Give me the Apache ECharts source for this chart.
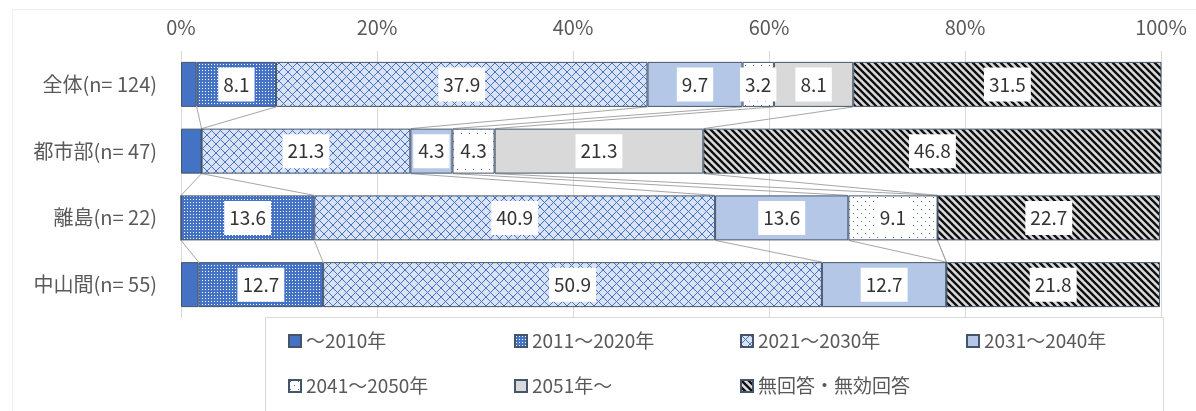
<!DOCTYPE html>
<html>
<head>
<meta charset="utf-8">
<script src="https://cdn.jsdelivr.net/npm/echarts@6/dist/echarts.min.js"></script>
<style>
html,body{margin:0;padding:0;background:#fff;}
#chart{width:1196px;height:411px;}
</style>
</head>
<body>
<div id="chart"></div>
<script>
// ---- data ----
const categories = ['全体(n= 124)', '都市部(n= 47)', '離島(n= 22)', '中山間(n= 55)'];
const seriesNames = ['～2010年', '2011～2020年', '2021～2030年', '2031～2040年', '2041～2050年', '2051年～', '無回答・無効回答'];
const s2010 = [1.6, 2.1, 0, 1.8];
const s2020 = [8.1, 0, 13.6, 12.7];
const s2030 = [37.9, 21.3, 40.9, 50.9];
const s2040 = [9.7, 4.3, 13.6, 12.7];
const s2050 = [3.2, 4.3, 9.1, 0];
const s2051 = [8.1, 21.3, 0, 0];
const sNone = [31.5, 46.8, 22.7, 21.8];
const xTicks = [0, 20, 40, 60, 80, 100];

const seriesValues = [s2010, s2020, s2030, s2040, s2050, s2051, sNone];

// ---- patterns ----
function makeCanvas(w, h, draw) {
  const c = document.createElement('canvas');
  c.width = w; c.height = h;
  const ctx = c.getContext('2d');
  draw(ctx, w, h);
  return c;
}
const patDots = makeCanvas(3, 3, (ctx, w, h) => {
  ctx.fillStyle = '#4472C4'; ctx.fillRect(0, 0, w, h);
  ctx.fillStyle = '#ffffff'; ctx.fillRect(1, 1, 1, 1);
});
const patCross = makeCanvas(9, 9, (ctx, w, h) => {
  ctx.fillStyle = '#DAE3F3'; ctx.fillRect(0, 0, w, h);
  ctx.strokeStyle = '#4472C4'; ctx.lineWidth = 1;
  ctx.beginPath();
  ctx.moveTo(0, 0); ctx.lineTo(w, h);
  ctx.moveTo(w, 0); ctx.lineTo(0, h);
  ctx.stroke();
});
const patSparse = makeCanvas(8, 8, (ctx, w, h) => {
  ctx.fillStyle = '#ffffff'; ctx.fillRect(0, 0, w, h);
  ctx.fillStyle = '#4472C4';
  ctx.fillRect(1, 1, 1, 1);
  ctx.fillRect(5, 5, 1, 1);
});
const patStripe = makeCanvas(7, 7, (ctx, w, h) => {
  ctx.fillStyle = '#DCDCDC'; ctx.fillRect(0, 0, w, h);
  ctx.strokeStyle = '#111111'; ctx.lineWidth = 2.4;
  ctx.beginPath();
  ctx.moveTo(-2, -2); ctx.lineTo(w + 2, h + 2);
  ctx.moveTo(-2 - w, -2); ctx.lineTo(2, h + 2);
  ctx.moveTo(w - 2, -2); ctx.lineTo(2 * w + 2, h + 2);
  ctx.stroke();
});

const fills = [
  '#4472C4',
  {image: patDots, repeat: 'repeat'},
  {image: patCross, repeat: 'repeat'},
  '#B4C7E7',
  {image: patSparse, repeat: 'repeat'},
  '#D9D9D9',
  {image: patStripe, repeat: 'repeat'}
];

const FONT = '"Noto Sans CJK JP", "Noto Sans", sans-serif';
const BAR_W = 45;

const barSeries = seriesNames.map((name, si) => ({
  name: name,
  type: 'bar',
  stack: 'total',
  barWidth: BAR_W,
  itemStyle: {color: fills[si], borderColor: '#44546A', borderWidth: 1},
  label: {
    show: true,
    position: 'inside',
    formatter: p => p.value.toFixed(1),
    backgroundColor: '#ffffff',
    padding: [6, 5],
    fontSize: 19,
    lineHeight: 22,
    color: '#333333',
    fontFamily: FONT
  },
  emphasis: {disabled: true},
  data: seriesValues[si].map(v => ({value: v, label: {show: si > 0 && v > 0}}))
}));

// cumulative boundaries for series lines
const cum = categories.map((c, ci) => {
  let s = 0;
  return seriesValues.map(arr => (s += arr[ci]));
});
const lineData = [];
for (let ci = 0; ci < categories.length - 1; ci++) {
  for (let k = 0; k < seriesValues.length - 1; k++) {
    lineData.push([ci, cum[ci][k], cum[ci + 1][k]]);
  }
}

const seriesLines = {
  type: 'custom',
  name: 'series-lines',
  coordinateSystem: 'cartesian2d',
  encode: {x: [1, 2], y: 0},
  silent: true,
  z: 1,
  renderItem: function (params, api) {
    const i = api.value(0);
    const p1 = api.coord([api.value(1), i]);
    const p2 = api.coord([api.value(2), i + 1]);
    return {
      type: 'line',
      shape: {x1: p1[0], y1: p1[1] + BAR_W / 2, x2: p2[0], y2: p2[1] - BAR_W / 2},
      style: {stroke: '#A6A6A6', lineWidth: 1}
    };
  },
  data: lineData
};

const legendBase = {
  orient: 'horizontal',
  left: 288,
  width: 1000,
  padding: 0,
  itemWidth: 12,
  itemHeight: 12,
  itemGap: 0,
  selectedMode: false,
  icon: 'rect',
  textStyle: {width: 208, fontSize: 19, color: '#595959', fontFamily: FONT, lineHeight: 20}
};

const chart = echarts.init(document.getElementById('chart'), null, {renderer: 'canvas'});
chart.setOption({
  animation: false,
  backgroundColor: '#ffffff',
  textStyle: {fontFamily: FONT},
  grid: {left: 181, right: 35, top: 51, bottom: 93, containLabel: false},
  graphic: [
    {type: 'rect', left: 10, top: 7, shape: {width: 1300, height: 500}, style: {fill: 'none', stroke: '#EEEEEE', lineWidth: 1}, silent: true, z: -10},
    {type: 'rect', left: 265, top: 317, shape: {width: 898, height: 120}, style: {fill: '#ffffff', stroke: '#D9D9D9', lineWidth: 1}, silent: true, z: -5}
  ],
  xAxis: {
    type: 'value',
    position: 'top',
    min: xTicks[0],
    max: xTicks[xTicks.length - 1],
    interval: xTicks[1] - xTicks[0],
    axisLine: {show: false},
    axisTick: {show: false},
    axisLabel: {formatter: '{value}%', fontSize: 20, color: '#595959', margin: 14, fontFamily: FONT},
    splitLine: {show: true, lineStyle: {color: '#D9D9D9', width: 1}}
  },
  yAxis: {
    type: 'category',
    inverse: true,
    data: categories,
    axisLine: {show: false},
    axisTick: {show: false},
    axisLabel: {fontSize: 20, color: '#595959', margin: 24, fontFamily: FONT}
  },
  legend: [
    Object.assign({}, legendBase, {top: 331, data: seriesNames.slice(0, 4)}),
    Object.assign({}, legendBase, {top: 376, data: seriesNames.slice(4)})
  ],
  series: barSeries.concat([seriesLines])
});
</script>
</body>
</html>
